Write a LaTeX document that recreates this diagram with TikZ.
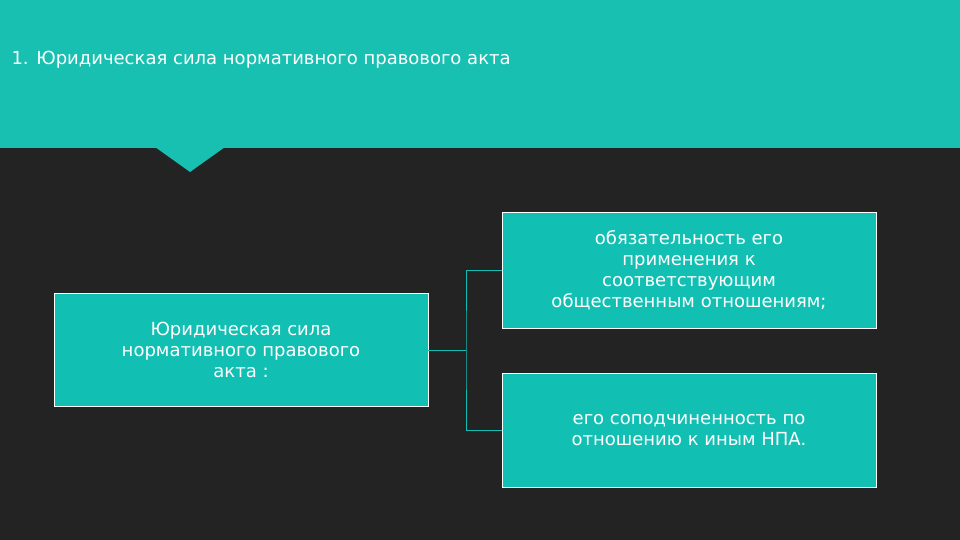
\documentclass[tikz,border=0pt]{standalone}
\usepackage{fontspec}
\setmainfont{DejaVu Sans}
\definecolor{teal1}{HTML}{17C0B1}
\definecolor{boxc}{HTML}{12C0B3}
\definecolor{bg}{HTML}{232323}
\begin{document}
\begin{tikzpicture}[x=1pt,y=-1pt,
  box/.style={draw=white,line width=0.8pt,fill=boxc,text=white,align=center,font=\fontsize{18}{21}\selectfont,inner sep=0pt},
  conn/.style={draw=boxc,line width=0.8pt}]
\fill[bg] (0,0) rectangle (960,540);
\useasboundingbox (0,0) rectangle (960,540);
\fill[teal1] (0,0) rectangle (960,148);
\fill[teal1] (155,147) -- (225,147) -- (190,172) -- cycle;
\node[anchor=west,text=white,font=\fontsize{18}{21}\selectfont] (title) at (8,60) {1. Юридическая сила нормативного правового акта};
\node[box,minimum width=374pt,minimum height=113pt] (L) at (241,350) {Юридическая сила\\нормативного правового\\акта :};
\node[box,minimum width=374pt,minimum height=116pt] (R1) at (689,270) {обязательность его\\применения к\\соответствующим\\общественным отношениям;};
\node[box,minimum width=374pt,minimum height=114pt] (R2) at (689,430) {его соподчиненность по\\отношению к иным НПА.};
\coordinate (j) at (466,350);
\draw[conn] (L.east) -- (j);
\draw[conn] (R1.west) -| (j) |- (R2.west);
\end{tikzpicture}
\end{document}
